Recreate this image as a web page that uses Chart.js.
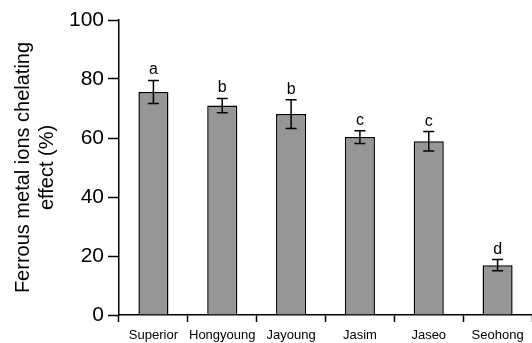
<!DOCTYPE html>
<html lang="en">
  <head>
    <meta charset="UTF-8" />
    <title>Ferrous metal ions chelating effect</title>
    <style>
      html, body { margin: 0; padding: 0; background: #fff; }
      canvas { display: block; }
    </style>
  </head>
  <body>
    <canvas id="myChart" width="532" height="343"></canvas>

    <script src="https://cdn.jsdelivr.net/npm/chart.js@4/dist/chart.umd.min.js"></script>

    <!--Chart data-->
    <script>
      var cultivars = ["Superior", "Hongyoung", "Jayoung", "Jasim", "Jaseo", "Seohong"];
      var chelating = [75.6, 71.0, 68.1, 60.3, 58.9, 16.9];
      var errors = [3.9, 2.4, 4.9, 2.2, 3.3, 1.9];
      var groups = ["a", "b", "b", "c", "c", "d"];
      var yTicks = [0, 20, 40, 60, 80, 100];
    </script>

    <script>
      var fontFamily = "'Liberation Sans', Arial, Helvetica, sans-serif";

      // error bars + significance letters
      var errorBarPlugin = {
        id: "errorBars",
        afterDatasetsDraw: function (chart) {
          var ctx = chart.ctx;
          var yScale = chart.scales.y;
          var bars = chart.getDatasetMeta(0).data;
          ctx.save();
          ctx.strokeStyle = "#000";
          ctx.lineWidth = 1.5;
          for (var i = 0; i < bars.length; i++) {
            var x = bars[i].x;
            var top = yScale.getPixelForValue(chelating[i] + errors[i]);
            var bottom = yScale.getPixelForValue(chelating[i] - errors[i]);
            ctx.beginPath();
            ctx.moveTo(x, top);
            ctx.lineTo(x, bottom);
            ctx.moveTo(x - 5.5, top);
            ctx.lineTo(x + 5.5, top);
            ctx.moveTo(x - 5.5, bottom);
            ctx.lineTo(x + 5.5, bottom);
            ctx.stroke();

            ctx.fillStyle = "#000";
            ctx.font = "16px " + fontFamily;
            ctx.textAlign = "center";
            ctx.textBaseline = "alphabetic";
            ctx.fillText(groups[i], x, top - 6);
          }
          ctx.restore();
        },
      };

      function createChart() {
        var ctx = document.getElementById("myChart").getContext("2d");
        new Chart(ctx, {
          type: "bar",
          data: {
            labels: cultivars,
            datasets: [
              {
                data: chelating,
                backgroundColor: "#969696",
                borderColor: "#000",
                borderWidth: 1.5,
                categoryPercentage: 1,
                barPercentage: 0.437,
              },
            ],
          },
          options: {
            responsive: false,
            devicePixelRatio: 1,
            animation: false,
            layout: { padding: { top: 20, right: 0, left: 0, bottom: 0 } },
            plugins: {
              legend: { display: false },
              tooltip: { enabled: false },
            },
            scales: {
              x: {
                grid: {
                  offset: true,
                  drawOnChartArea: false,
                  drawTicks: true,
                  tickLength: 7,
                  tickWidth: 1.5,
                  tickColor: "#000",
                },
                border: { display: true, color: "#000", width: 1.5 },
                ticks: {
                  color: "#000",
                  padding: 6,
                  autoSkip: false,
                  maxRotation: 0,
                  minRotation: 0,
                  font: { family: fontFamily, size: 13 },
                },
                afterFit: function (scale) {
                  scale.height = 28;
                },
              },
              y: {
                min: 0,
                max: 100,
                afterBuildTicks: function (scale) {
                  scale.ticks = yTicks.map(function (v) {
                    return { value: v };
                  });
                },
                grid: {
                  drawOnChartArea: false,
                  drawTicks: true,
                  tickLength: 11,
                  tickWidth: 1.5,
                  tickColor: "#000",
                },
                border: { display: true, color: "#000", width: 1.5 },
                ticks: {
                  color: "#000",
                  padding: 4,
                  font: { family: fontFamily, size: 21 },
                },
                title: {
                  display: true,
                  text: ["Ferrous metal ions chelating", "effect (%)"],
                  color: "#000",
                  padding: { top: 11, bottom: 0 },
                  font: { family: fontFamily, size: 20, lineHeight: 1.2 },
                },
                afterFit: function (scale) {
                  scale.width = 119;
                },
              },
            },
          },
          plugins: [errorBarPlugin],
        });
      }
      createChart();
    </script>
  </body>
</html>
